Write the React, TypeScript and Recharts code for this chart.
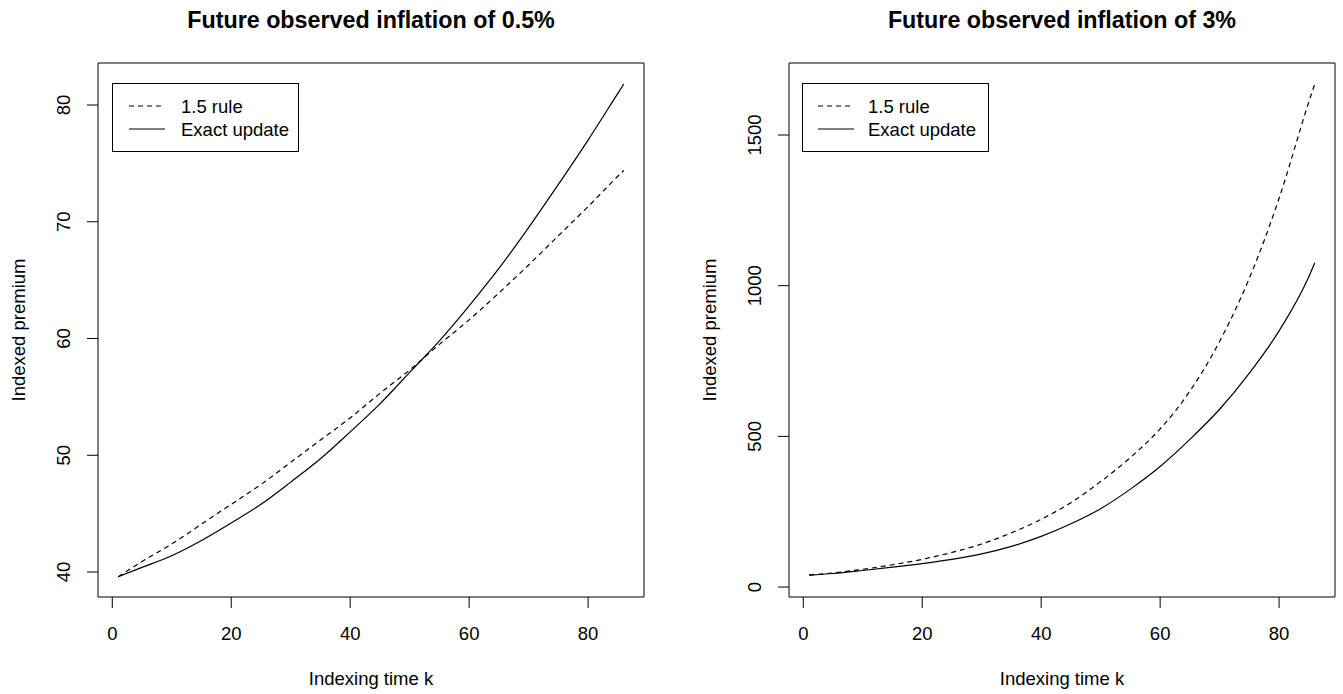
import React from 'react';
import { LineChart, Line, XAxis, YAxis, ReferenceArea, Legend } from 'recharts';

const FONT = '"Liberation Sans", Arial, sans-serif';

// indexing times k read along the x axis
const indexingTimes = [1, 5, 10, 15, 20, 25, 30, 35, 40, 45, 50, 55, 60, 65, 70, 75, 80, 85, 86];

// future observed inflation of 0.5%
const ruleLowInflation = [39.6, 40.9, 42.4, 44.1, 45.8, 47.5, 49.4, 51.3, 53.2, 55.3, 57.3, 59.5, 61.6, 63.9, 66.3, 68.8, 71.3, 73.9, 74.4];
const exactLowInflation = [39.6, 40.4, 41.4, 42.7, 44.2, 45.8, 47.7, 49.7, 52.0, 54.4, 57.1, 59.8, 62.8, 66.0, 69.5, 73.2, 77.0, 81.0, 81.8];

// future observed inflation of 3%
const ruleHighInflation = [39.6, 47, 59, 74, 92, 115, 143, 180, 225, 280, 350, 430, 525, 650, 815, 1025, 1290, 1610, 1670];
const exactHighInflation = [39.6, 45, 55, 66, 78, 92, 110, 135, 168, 210, 260, 325, 400, 490, 590, 710, 850, 1030, 1076];

const xTicks = [0, 20, 40, 60, 80];
const lowTicks = [40, 50, 60, 70, 80];
const highTicks = [0, 500, 1000, 1500];

const X_DOMAIN: [number, number] = [-2.4, 89.4];

const lowData = indexingTimes.map((k, i) => ({ k, rule: ruleLowInflation[i], exact: exactLowInflation[i] }));
const highData = indexingTimes.map((k, i) => ({ k, rule: ruleHighInflation[i], exact: exactHighInflation[i] }));

const XTick = (props: any) => {
  const { x, y, payload } = props;
  return (
    <g>
      <line x1={x} y1={y} x2={x} y2={y + 11} stroke="#000" strokeWidth={1} />
      <text x={x} y={y + 36} textAnchor="middle" dominantBaseline="central" fontFamily={FONT} fontSize={18.5} fill="#000">
        {payload.value}
      </text>
    </g>
  );
};

const YTick = (props: any) => {
  const { x, y, payload } = props;
  const tx = x - 34;
  return (
    <g>
      <line x1={x - 11} y1={y} x2={x} y2={y} stroke="#000" strokeWidth={1} />
      <text x={tx} y={y} transform={`rotate(-90, ${tx}, ${y})`} textAnchor="middle" dominantBaseline="central" fontFamily={FONT} fontSize={18.5} fill="#000">
        {payload.value}
      </text>
    </g>
  );
};

const XTitle = (props: any) => {
  const vb = props.viewBox;
  return (
    <text x={vb.x + vb.width / 2} y={vb.y + 81} textAnchor="middle" dominantBaseline="central" fontFamily={FONT} fontSize={18.5} fill="#000">
      Indexing time k
    </text>
  );
};

const YTitle = (props: any) => {
  const vb = props.viewBox;
  const tx = vb.x + vb.width - 80;
  const ty = vb.y + vb.height / 2;
  return (
    <text x={tx} y={ty} transform={`rotate(-90, ${tx}, ${ty})`} textAnchor="middle" dominantBaseline="central" fontFamily={FONT} fontSize={18.5} fill="#000">
      Indexed premium
    </text>
  );
};

const LegendBox = ({ payload, sampleLeft, textLeft }: any) => (
  <svg width={188} height={70} style={{ display: 'block' }}>
    <rect x={0.5} y={0.5} width={186} height={68} fill="#fff" stroke="#000" strokeWidth={1} />
    {(payload || []).map((entry: any, i: number) => (
      <g key={entry.value}>
        <line
          x1={sampleLeft}
          x2={sampleLeft + 36}
          y1={23 + i * 23}
          y2={23 + i * 23}
          stroke="#000"
          strokeWidth={1.2}
          strokeDasharray={entry.payload?.strokeDasharray}
        />
        <text x={textLeft} y={23 + i * 23} dominantBaseline="central" fontFamily={FONT} fontSize={18.5} fill="#000">
          {entry.value}
        </text>
      </g>
    ))}
  </svg>
);

interface PanelProps {
  left: number;
  width: number;
  title: string;
  data: { k: number; rule: number; exact: number }[];
  yDomain: [number, number];
  yTicks: number[];
  yAxisWidth: number;
  marginRight: number;
  legendLeft: number;
  sampleLeft: number;
  textLeft: number;
}

const Panel = ({ left, width, title, data, yDomain, yTicks, yAxisWidth, marginRight, legendLeft, sampleLeft, textLeft }: PanelProps) => {
  const plotWidth = width - yAxisWidth - marginRight;
  return (
    <div style={{ position: 'absolute', left, top: 0, width, height: 694 }}>
      <div
        style={{
          position: 'absolute',
          left: yAxisWidth,
          width: plotWidth,
          top: 6,
          lineHeight: '28px',
          textAlign: 'center',
          fontFamily: FONT,
          fontWeight: 'bold',
          fontSize: 23.3,
          color: '#000',
          zIndex: 1,
        }}
      >
        {title}
      </div>
      <LineChart width={width} height={694} data={data} margin={{ top: 63, right: marginRight, bottom: 0, left: 0 }}>
        <XAxis
          dataKey="k"
          type="number"
          domain={X_DOMAIN}
          ticks={xTicks}
          allowDataOverflow
          axisLine={false}
          tickLine={false}
          tickSize={0}
          tickMargin={0}
          height={97}
          tick={<XTick />}
          label={{ content: <XTitle /> }}
        />
        <YAxis
          type="number"
          domain={yDomain}
          ticks={yTicks}
          allowDataOverflow
          axisLine={false}
          tickLine={false}
          tickSize={0}
          tickMargin={0}
          width={yAxisWidth}
          tick={<YTick />}
          label={{ content: <YTitle /> }}
        />
        <ReferenceArea
          x1={X_DOMAIN[0]}
          x2={X_DOMAIN[1]}
          y1={yDomain[0]}
          y2={yDomain[1]}
          fill="none"
          stroke="#000"
          strokeWidth={1}
          ifOverflow="visible"
        />
        <Legend
          layout="horizontal"
          verticalAlign="middle"
          align="center"
          wrapperStyle={{ left: legendLeft, top: 83, width: 188, height: 70 }}
          content={<LegendBox sampleLeft={sampleLeft} textLeft={textLeft} />}
        />
        <Line
          type="monotone"
          dataKey="rule"
          name="1.5 rule"
          stroke="#000"
          strokeWidth={1.2}
          strokeDasharray="5 4"
          dot={false}
          activeDot={false}
          isAnimationActive={false}
        />
        <Line
          type="monotone"
          dataKey="exact"
          name="Exact update"
          stroke="#000"
          strokeWidth={1.2}
          dot={false}
          activeDot={false}
          isAnimationActive={false}
        />
      </LineChart>
    </div>
  );
};

export default function App() {
  return (
    <div style={{ position: 'absolute', left: 0, top: 0, width: 1343, height: 694, background: '#fff', fontFamily: FONT }}>
      <Panel
        left={0}
        width={672}
        title="Future observed inflation of 0.5%"
        data={lowData}
        yDomain={[37.86, 83.6]}
        yTicks={lowTicks}
        yAxisWidth={98}
        marginRight={28}
        legendLeft={112}
        sampleLeft={17}
        textLeft={69}
      />
      <Panel
        left={672}
        width={671}
        title="Future observed inflation of 3%"
        data={highData}
        yDomain={[-33, 1739]}
        yTicks={highTicks}
        yAxisWidth={117}
        marginRight={8}
        legendLeft={130}
        sampleLeft={16}
        textLeft={66}
      />
    </div>
  );
}
